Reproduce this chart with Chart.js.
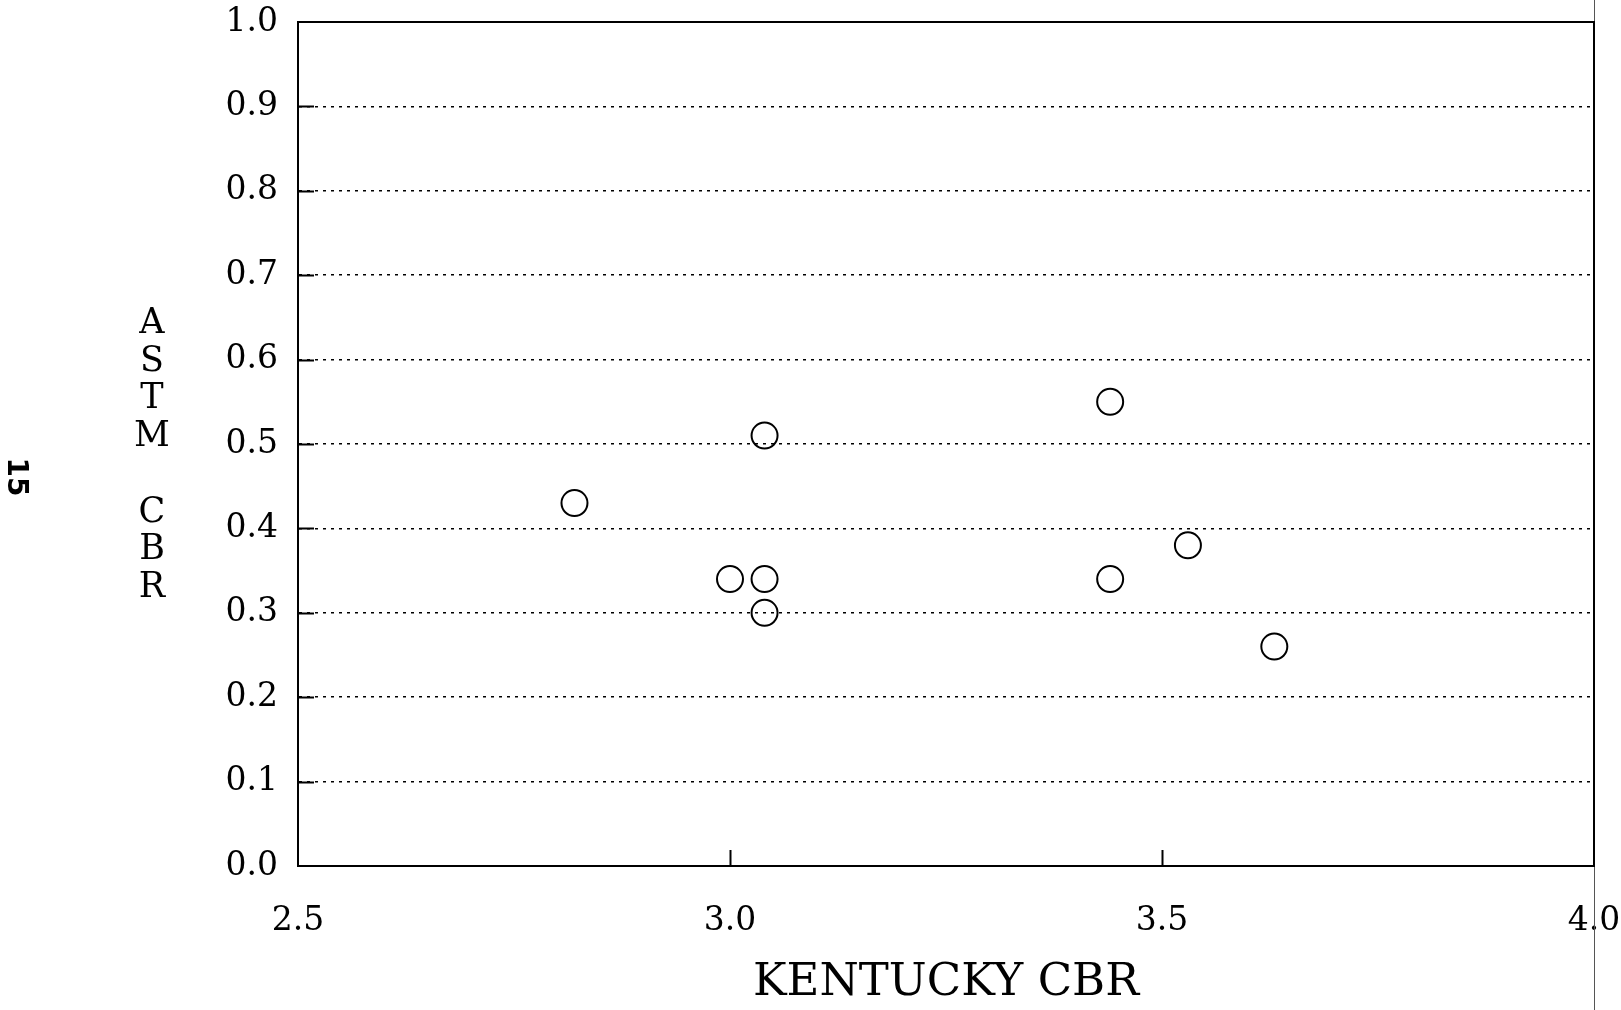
<!DOCTYPE html>
<html>
<head>
<meta charset="utf-8">
<title>ASTM CBR vs Kentucky CBR</title>
<script src="https://cdn.jsdelivr.net/npm/chart.js@4.4.0/dist/chart.umd.min.js"></script>
<style>
  html, body { margin: 0; padding: 0; background: #fff; }
  #wrap { width: 1621px; height: 1010px; position: relative; }
</style>
</head>
<body>
<div id="wrap"><canvas id="chart" width="1621" height="1010"></canvas></div>
<script>
// data
const kentuckyCbr = [2.82, 3.00, 3.04, 3.04, 3.04, 3.44, 3.44, 3.53, 3.63];
const astmCbr     = [0.43, 0.34, 0.51, 0.34, 0.30, 0.55, 0.34, 0.38, 0.26];

const xTicks = [2.5, 3.0, 3.5, 4.0];
const yTicks = [0.0, 0.1, 0.2, 0.3, 0.4, 0.5, 0.6, 0.7, 0.8, 0.9, 1.0];
const xTitle = 'KENTUCKY CBR';
const yTitleLetters = ['A', 'S', 'T', 'M', '', 'C', 'B', 'R'];
const pageNumber = '15';

const SERIF = '"DejaVu Serif", "Liberation Serif", serif';

Chart.defaults.color = '#000';

// frame, inward tick stubs, stacked y title, page number
const decorations = {
  id: 'decorations',
  afterDraw(chart) {
    const { ctx, chartArea: a, scales } = chart;
    ctx.save();

    // page edge line of the scan
    ctx.strokeStyle = '#555';
    ctx.lineWidth = 1;
    ctx.beginPath();
    ctx.moveTo(a.right + 0.5, 0);
    ctx.lineTo(a.right + 0.5, chart.height);
    ctx.stroke();

    // plot frame
    ctx.strokeStyle = '#000';
    ctx.lineWidth = 2;
    ctx.strokeRect(a.left, a.top, a.right - a.left, a.bottom - a.top);

    // short solid stubs on the left axis
    yTicks.forEach(v => {
      if (v === 0 || v === 1) return;
      const y = Math.round(scales.y.getPixelForValue(v)) + 0.5;
      ctx.beginPath();
      ctx.moveTo(a.left, y);
      ctx.lineTo(a.left + 16, y);
      ctx.stroke();
    });
    // upward stubs on the bottom axis
    xTicks.forEach((v, i) => {
      if (i === 0 || i === xTicks.length - 1) return;
      const x = Math.round(scales.x.getPixelForValue(v)) + 0.5;
      ctx.beginPath();
      ctx.moveTo(x, a.bottom);
      ctx.lineTo(x, a.bottom - 16);
      ctx.stroke();
    });

    // stacked y axis title
    ctx.fillStyle = '#000';
    ctx.font = '35px ' + SERIF;
    ctx.textAlign = 'center';
    ctx.textBaseline = 'middle';
    yTitleLetters.forEach((ch, i) => {
      if (ch) ctx.fillText(ch, 152, 324 + i * 37.7);
    });

    // rotated page number
    ctx.translate(15, 477);
    ctx.rotate(Math.PI / 2);
    ctx.font = 'bold 28px "DejaVu Sans", sans-serif';
    ctx.fillText(pageNumber, 0, 0);

    ctx.restore();
  }
};

new Chart(document.getElementById('chart'), {
  type: 'scatter',
  data: {
    datasets: [{
      label: 'ASTM CBR',
      data: kentuckyCbr.map((x, i) => ({ x: x, y: astmCbr[i] })),
      pointStyle: 'circle',
      pointRadius: 13,
      pointHoverRadius: 13,
      borderWidth: 2,
      borderColor: '#000',
      backgroundColor: 'rgba(255,255,255,0)'
    }]
  },
  options: {
    responsive: false,
    animation: false,
    events: [],
    layout: { padding: { left: 0, top: 22, right: 27, bottom: 0 } },
    plugins: {
      legend: { display: false },
      tooltip: { enabled: false }
    },
    scales: {
      x: {
        type: 'linear',
        min: 2.5,
        max: 4.0,
        afterBuildTicks: s => { s.ticks = xTicks.map(v => ({ value: v })); },
        afterFit: s => { s.height = 144; s.paddingLeft = 0; s.paddingRight = 0; },
        grid: { display: false },
        border: { display: true, color: '#000', width: 2 },
        ticks: {
          padding: 28,
          maxRotation: 0,
          font: { family: SERIF, size: 33 },
          callback: v => Number(v).toFixed(1)
        },
        title: {
          display: true,
          text: xTitle,
          font: { family: SERIF, size: 45, lineHeight: 1 },
          padding: { top: 0, bottom: 4 }
        }
      },
      y: {
        type: 'linear',
        min: 0,
        max: 1.0,
        afterBuildTicks: s => { s.ticks = yTicks.map(v => ({ value: v })); },
        afterFit: s => { s.width = 298; s.paddingTop = 0; s.paddingBottom = 0; },
        grid: { color: '#000', lineWidth: 1.5, drawTicks: false },
        border: { display: true, color: '#000', width: 2, dash: [3, 5] },
        ticks: {
          padding: 20,
          font: { family: SERIF, size: 33 },
          callback: v => Number(v).toFixed(1)
        }
      }
    }
  },
  plugins: [decorations]
});
</script>
</body>
</html>
